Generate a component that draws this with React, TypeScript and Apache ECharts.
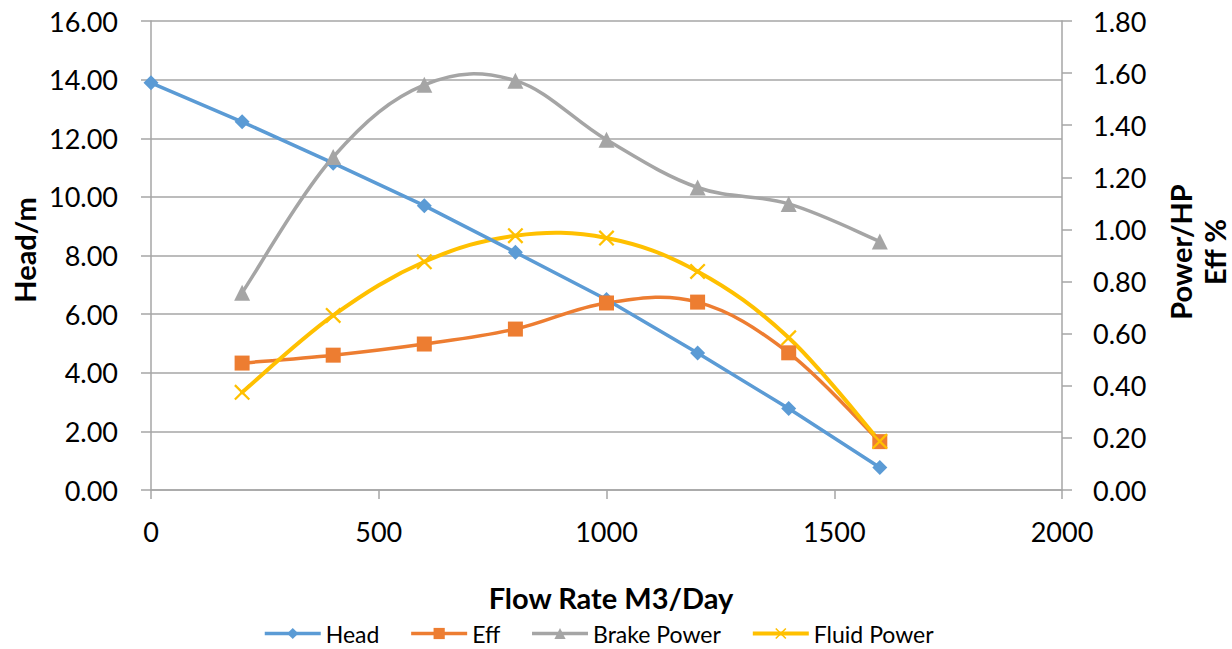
import React, { useEffect, useRef } from "react";
import * as echarts from "echarts";

const flowRates = [0, 200, 400, 600, 800, 1000, 1200, 1400, 1600];
const headValues = [13.89, 12.56, 11.15, 9.7, 8.11, 6.5, 4.67, 2.78, 0.77];
const effFlow = [200, 400, 600, 800, 1000, 1200, 1400, 1600];
const effValues = [4.33, 4.6, 4.98, 5.49, 6.38, 6.41, 4.68, 1.65];
const brakeFlow = [200, 400, 600, 800, 1000, 1200, 1400, 1600];
const brakeValues = [0.757, 1.278, 1.555, 1.571, 1.344, 1.161, 1.098, 0.954];
const fluidFlow = [200, 400, 600, 800, 1000, 1200, 1400, 1600];
const fluidValues = [0.375, 0.67, 0.876, 0.976, 0.967, 0.839, 0.584, 0.187];

const seriesNames = ["Head", "Eff", "Brake Power", "Fluid Power"];
const xTitle = "Flow Rate M3/Day";
const leftTitle = "Head/m";
const rightTitle = "Power/HP\nEff %";

const FONT = "Lato, 'Liberation Sans', sans-serif";
const GRID_COLOR = "#a6a6a6";
const COLORS = ["#5b9bd5", "#ed7d31", "#a5a5a5", "#ffc000"];
const X_SYMBOL =
  "path://M0,1 L1,0 L10,9 L9,10 Z M9,0 L10,1 L1,10 L0,9 Z";
const TENSION = 0.18;

function pairs(xs: number[], ys: number[]) {
  return xs.map((x, i) => [x, ys[i]]);
}

// Smooth curve (Excel-like Catmull-Rom) drawn as a custom series through the axes' scales
function smoothCurve(name: string, pts: number[][], yAxisIndex: number, color: string, width: number) {
  return {
    name: name + " curve",
    type: "custom",
    yAxisIndex,
    silent: true,
    data: pts.slice(0, -1),
    encode: { x: 0, y: 1 },
    renderItem: (params: any, api: any) => {
      const i = params.dataIndex;
      const n = pts.length;
      const c = (k: number) => api.coord(pts[Math.max(0, Math.min(n - 1, k))]);
      const p0 = c(i - 1);
      const p1 = c(i);
      const p2 = c(i + 1);
      const p3 = c(i + 2);
      return {
        type: "bezierCurve",
        shape: {
          x1: p1[0],
          y1: p1[1],
          x2: p2[0],
          y2: p2[1],
          cpx1: p1[0] + (p2[0] - p0[0]) * TENSION,
          cpy1: p1[1] + (p2[1] - p0[1]) * TENSION,
          cpx2: p2[0] - (p3[0] - p1[0]) * TENSION,
          cpy2: p2[1] - (p3[1] - p1[1]) * TENSION,
        },
        style: { stroke: color, lineWidth: width, fill: "none", lineCap: "round" },
      };
    },
  };
}

export default function App() {
  const ref = useRef<HTMLDivElement>(null);
  useEffect(() => {
    if (!ref.current) return;
    const chart = echarts.init(ref.current, undefined, { renderer: "svg" });
    const axisLabelStyle = { color: "#000", fontSize: 27, fontFamily: FONT };
    const titleFont = `bold 29px ${FONT}`;
    chart.setOption({
      animation: false,
      backgroundColor: "#fff",
      textStyle: { fontFamily: FONT },
      grid: { left: 151, right: 170, top: 21, bottom: 159, containLabel: false },
      legend: {
        data: seriesNames.map((name, i) => ({
          name,
          lineStyle: { color: COLORS[i], width: i === 3 ? 4 : 3.5, opacity: 1 },
        })),
        left: 258,
        top: 617,
        itemWidth: 56,
        itemHeight: 14,
        itemGap: 30,
        textStyle: { color: "#000", fontSize: 23, fontFamily: FONT },
      },
      xAxis: {
        type: "value",
        min: 0,
        max: 2000,
        interval: 500,
        axisLine: { show: true, lineStyle: { color: GRID_COLOR, width: 1.5 } },
        axisTick: { show: true, length: 9, lineStyle: { color: GRID_COLOR, width: 1.5 } },
        splitLine: { show: false },
        axisLabel: { ...axisLabelStyle, margin: 28, formatter: (v: number) => String(v) },
      },
      yAxis: [
        {
          type: "value",
          min: 0,
          max: 16,
          interval: 2,
          axisLine: { show: true, lineStyle: { color: GRID_COLOR, width: 1.5 } },
          axisTick: { show: true, length: 10, lineStyle: { color: GRID_COLOR, width: 1.5 } },
          splitLine: { show: true, lineStyle: { color: GRID_COLOR, width: 1.5 } },
          axisLabel: { ...axisLabelStyle, margin: 33, formatter: (v: number) => v.toFixed(2) },
        },
        {
          type: "value",
          min: 0,
          max: 1.8,
          interval: 0.2,
          position: "right",
          axisLine: { show: true, lineStyle: { color: GRID_COLOR, width: 1.5 } },
          axisTick: { show: true, length: 10, lineStyle: { color: GRID_COLOR, width: 1.5 } },
          splitLine: { show: false },
          axisLabel: { ...axisLabelStyle, margin: 31, formatter: (v: number) => v.toFixed(2) },
        },
      ],
      graphic: [
        {
          type: "text",
          x: 611,
          y: 597,
          style: { text: xTitle, fill: "#000", font: titleFont, align: "center", verticalAlign: "middle" },
        },
        {
          type: "text",
          x: 24,
          y: 250,
          rotation: Math.PI / 2,
          style: { text: leftTitle, fill: "#000", font: titleFont, align: "center", verticalAlign: "middle" },
        },
        {
          type: "text",
          x: 1197,
          y: 252,
          rotation: Math.PI / 2,
          style: {
            text: rightTitle,
            fill: "#000",
            font: titleFont,
            lineHeight: 34,
            align: "center",
            verticalAlign: "middle",
          },
        },
      ],
      series: [
        {
          name: seriesNames[0],
          type: "line",
          data: pairs(flowRates, headValues),
          yAxisIndex: 0,
          symbol: "diamond",
          symbolSize: 15,
          lineStyle: { color: COLORS[0], width: 3.5 },
          itemStyle: { color: COLORS[0] },
        },
        smoothCurve(seriesNames[1], pairs(effFlow, effValues), 0, COLORS[1], 3.5),
        {
          name: seriesNames[1],
          type: "line",
          data: pairs(effFlow, effValues),
          yAxisIndex: 0,
          symbol: "rect",
          symbolSize: 15,
          lineStyle: { color: COLORS[1], width: 3.5, opacity: 0 },
          itemStyle: { color: COLORS[1] },
        },
        smoothCurve(seriesNames[2], pairs(brakeFlow, brakeValues), 1, COLORS[2], 3.5),
        {
          name: seriesNames[2],
          type: "line",
          data: pairs(brakeFlow, brakeValues),
          yAxisIndex: 1,
          symbol: "triangle",
          symbolSize: 16,
          lineStyle: { color: COLORS[2], width: 3.5, opacity: 0 },
          itemStyle: { color: COLORS[2] },
        },
        smoothCurve(seriesNames[3], pairs(fluidFlow, fluidValues), 1, COLORS[3], 4),
        {
          name: seriesNames[3],
          type: "line",
          data: pairs(fluidFlow, fluidValues),
          yAxisIndex: 1,
          symbol: X_SYMBOL,
          symbolSize: 16,
          lineStyle: { color: COLORS[3], width: 4, opacity: 0 },
          itemStyle: { color: COLORS[3] },
        },
      ],
    });
    return () => chart.dispose();
  }, []);
  return (
    <div
      ref={ref}
      style={{ position: "fixed", left: 0, top: 0, width: 1232, height: 649, background: "#fff" }}
    />
  );
}
